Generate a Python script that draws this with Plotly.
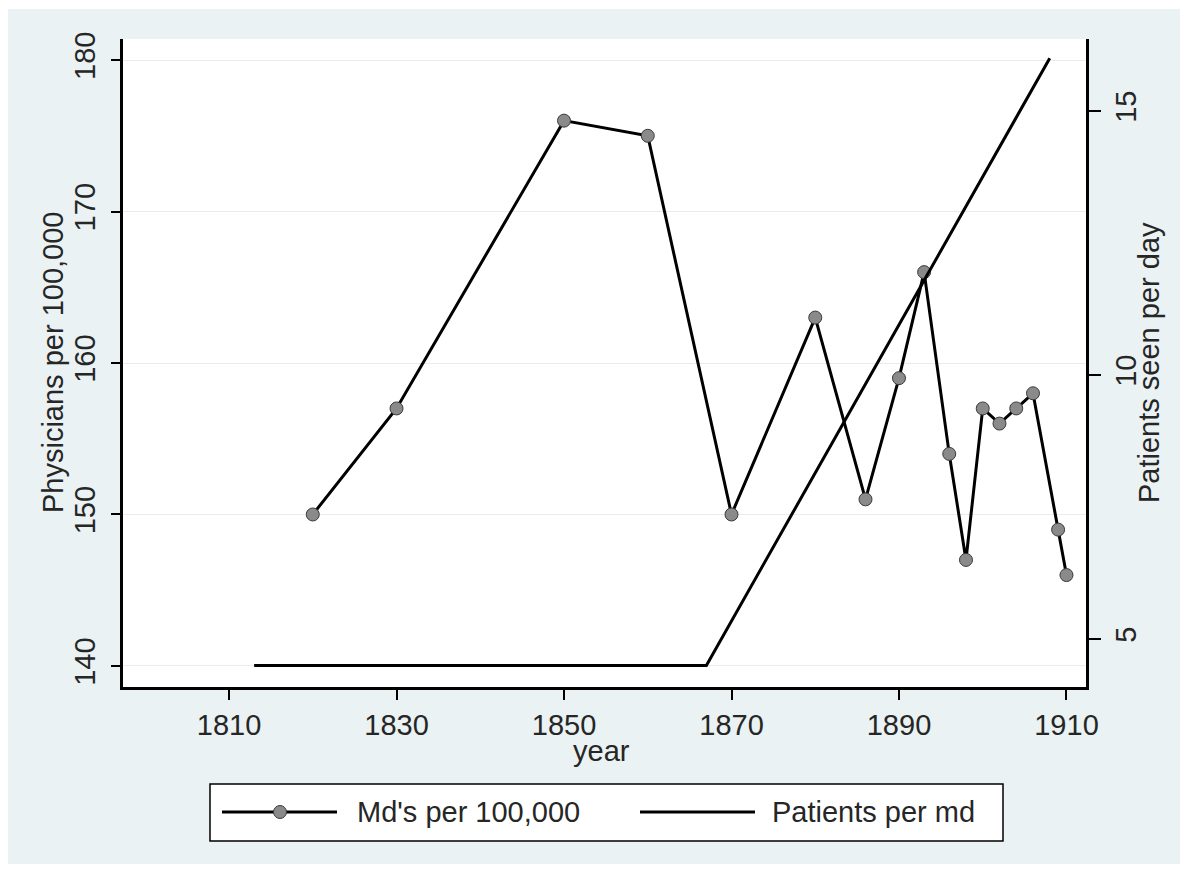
import plotly.graph_objects as go

# ---- data ----
years_md = [1820, 1830, 1850, 1860, 1870, 1880, 1886, 1890, 1893, 1896, 1898, 1900, 1902, 1904, 1906, 1909, 1910]
md_per_100k = [150, 157, 176, 175, 150, 163, 151, 159, 166, 154, 147, 157, 156, 157, 158, 149, 146]
years_pat = [1813, 1867, 1908]
patients_per_md = [4.5, 4.5, 16]
series_names = ["Md's per 100,000", "Patients per md"]
x_ticks = [1810, 1830, 1850, 1870, 1890, 1910]
y_left_ticks = [140, 150, 160, 170, 180]
y_right_ticks = [5, 10, 15]

FONT = "Liberation Sans, Arial, sans-serif"
FS = 29
BG = "#eaf2f3"
TXT = "#262626"

OFF = 8  # page body margin
W, H = 1191 - 2 * OFF, 878 - 2 * OFF
# plot area in reference page pixels
PL, PR, PT, PB = 123, 1086, 39, 687
L = PL - OFF
T = PT - OFF
R = W - (PR - OFF)
B = H - (PB - OFF)
pw, ph = PR - PL, PB - PT

def px2x(p):
    return (p - PL) / pw

def py2y(p):
    return (PB - p) / ph

fig = go.Figure()
fig.add_trace(go.Scatter(
    x=years_md, y=md_per_100k, mode="lines+markers", name=series_names[0],
    line=dict(color="black", width=3),
    marker=dict(size=13, color="#8a8a8a", line=dict(color="#3a3a3a", width=1)),
    yaxis="y", showlegend=False))
fig.add_trace(go.Scatter(
    x=years_pat, y=patients_per_md, mode="lines", name=series_names[1],
    line=dict(color="black", width=3),
    yaxis="y2", showlegend=False))

shapes = [
    # outer graph region (light blue-grey)
    dict(type="rect", xref="paper", yref="paper", layer="below",
         x0=px2x(7), x1=px2x(1180), y0=py2y(864), y1=py2y(9),
         fillcolor=BG, line=dict(width=0)),
    # plot region (white)
    dict(type="rect", xref="paper", yref="paper", layer="below",
         x0=0, x1=1, y0=0, y1=1, fillcolor="white", line=dict(width=0)),
    # legend box
    dict(type="rect", xref="paper", yref="paper",
         x0=px2x(210), x1=px2x(1003), y0=py2y(841), y1=py2y(784),
         fillcolor="white", line=dict(color="black", width=1.5)),
    # legend line 1
    dict(type="line", xref="paper", yref="paper",
         x0=px2x(222), x1=px2x(337), y0=py2y(812), y1=py2y(812),
         line=dict(color="black", width=3)),
    # legend marker 1
    dict(type="circle", xref="paper", yref="paper", xsizemode="pixel", ysizemode="pixel",
         xanchor=px2x(280), yanchor=py2y(812), x0=-6.5, x1=6.5, y0=-6.5, y1=6.5,
         fillcolor="#8a8a8a", line=dict(color="#3a3a3a", width=1)),
    # legend line 2
    dict(type="line", xref="paper", yref="paper",
         x0=px2x(640), x1=px2x(755), y0=py2y(812), y1=py2y(812),
         line=dict(color="black", width=3)),
]

annotations = [
    dict(xref="paper", yref="paper", x=px2x(355), y=py2y(812), text=series_names[0],
         showarrow=False, xanchor="left", yanchor="middle",
         font=dict(family=FONT, size=FS, color=TXT)),
    dict(xref="paper", yref="paper", x=px2x(770), y=py2y(812), text=series_names[1],
         showarrow=False, xanchor="left", yanchor="middle",
         font=dict(family=FONT, size=FS, color=TXT)),
    # x axis title
    dict(xref="paper", yref="paper", x=px2x(601), y=py2y(751), text="year",
         showarrow=False, xanchor="center", yanchor="middle",
         font=dict(family=FONT, size=FS, color=TXT)),
    # left y title
    dict(xref="paper", yref="paper", x=px2x(53), y=0.5, text="Physicians per 100,000",
         showarrow=False, xanchor="center", yanchor="middle", textangle=-90,
         font=dict(family=FONT, size=FS, color=TXT)),
    # right y title
    dict(xref="paper", yref="paper", x=px2x(1149), y=0.5, text="Patients seen per day",
         showarrow=False, xanchor="center", yanchor="middle", textangle=-90,
         font=dict(family=FONT, size=FS, color=TXT)),
]

fig.update_layout(
    width=W, height=H,
    margin=dict(l=L, r=R, t=T, b=B, pad=0),
    paper_bgcolor="white", plot_bgcolor="rgba(0,0,0,0)",
    font=dict(family=FONT, size=FS, color=TXT),
    shapes=shapes, annotations=annotations,
    showlegend=False,
    xaxis=dict(
        range=[1797.34, 1912.33], tickvals=x_ticks, ticktext=[str(v) for v in x_ticks],
        showline=True, linecolor="black", linewidth=3, mirror=False,
        ticks="outside", ticklen=10, tickwidth=2, tickcolor="black",
        showgrid=False, zeroline=False, automargin=False,
    ),
    yaxis=dict(
        range=[138.61, 181.39], tickvals=y_left_ticks, ticktext=[str(v) for v in y_left_ticks],
        showline=True, linecolor="black", linewidth=3,
        ticks="outside", ticklen=9, tickwidth=2, tickcolor="black", tickangle=-90,
        ticklabelstandoff=4,
        showgrid=True, gridcolor="#e6eded", gridwidth=1, zeroline=False, automargin=False,
    ),
    yaxis2=dict(
        range=[4.091, 16.364], tickvals=y_right_ticks, ticktext=[str(v) for v in y_right_ticks],
        overlaying="y", side="right", anchor="x",
        showline=True, linecolor="black", linewidth=3,
        ticks="outside", ticklen=12, tickwidth=2, tickcolor="black", tickangle=-90,
        showgrid=False, zeroline=False, automargin=False,
    ),
)

fig.write_html("out.html")
